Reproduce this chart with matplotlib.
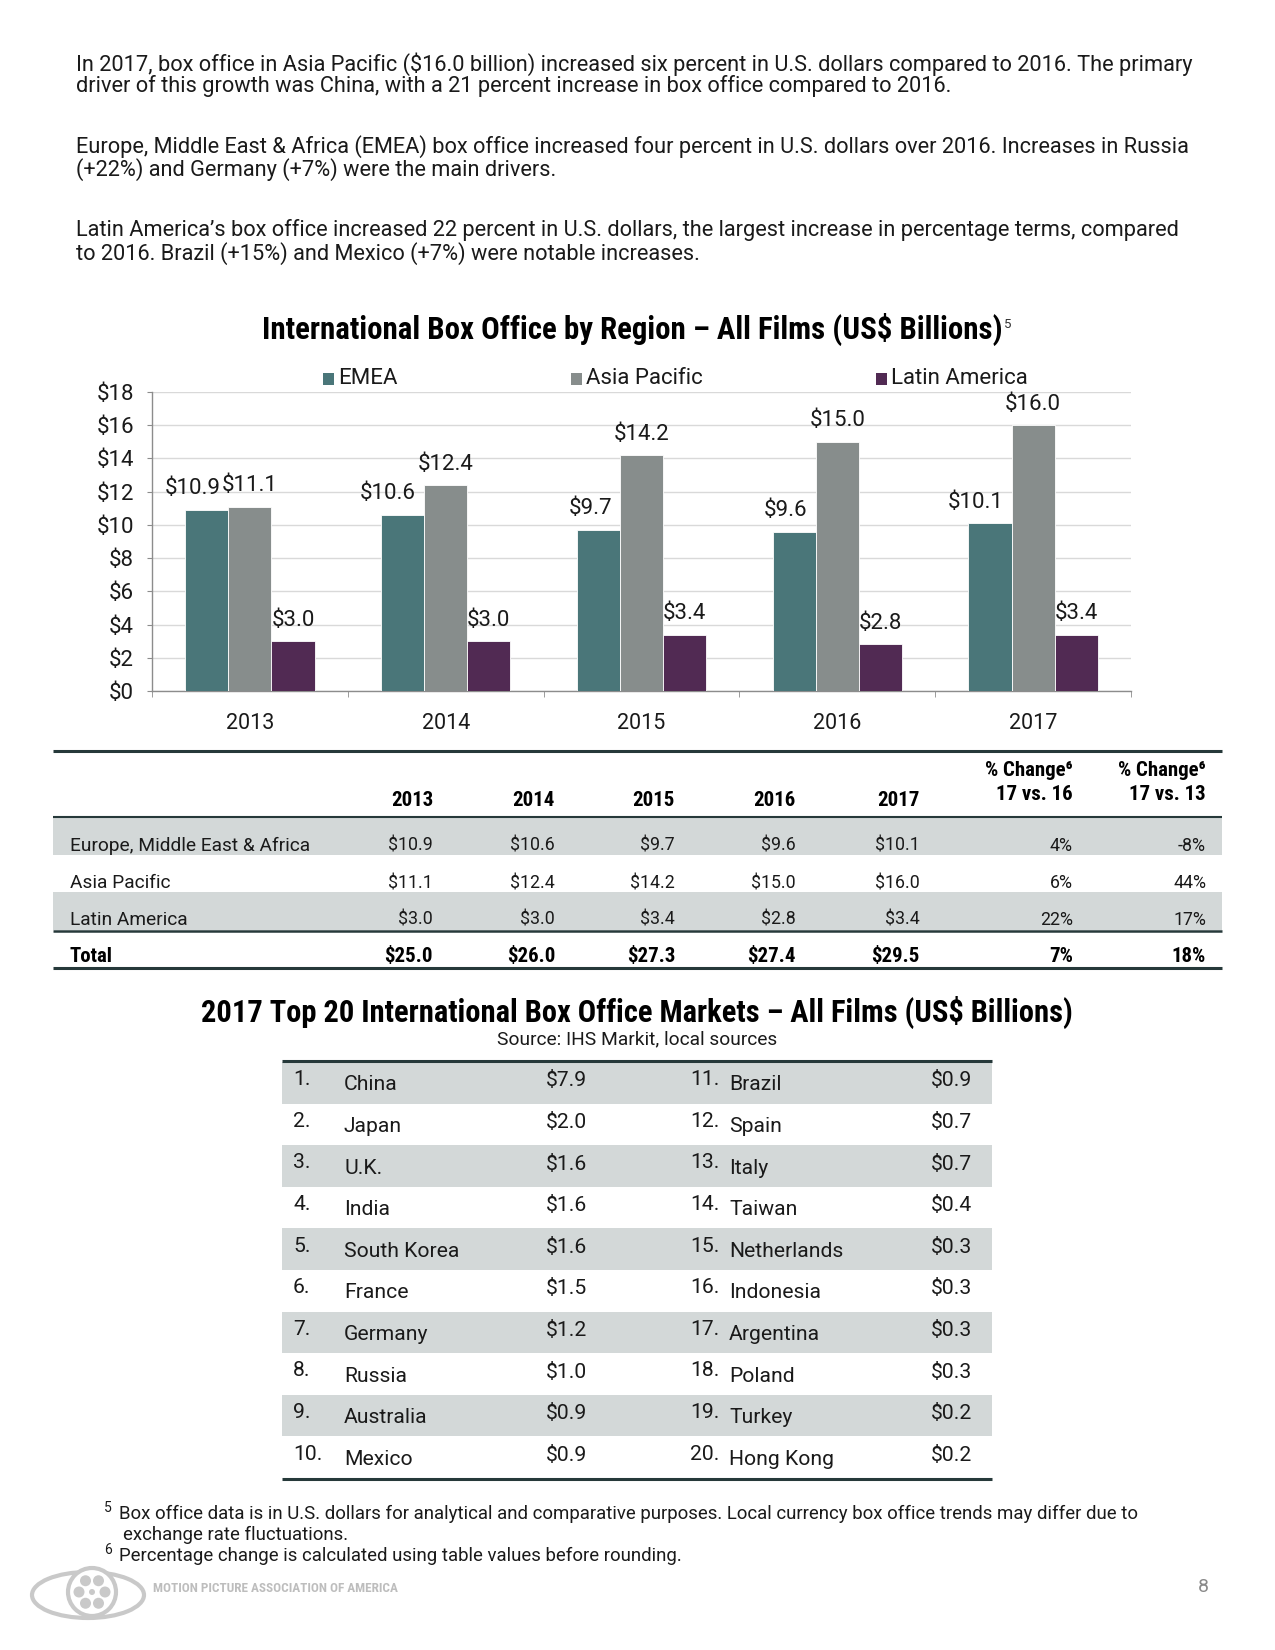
import numpy as np
import matplotlib
matplotlib.use('Agg')
import matplotlib.pyplot as plt
from matplotlib.patches import Rectangle, Ellipse, Circle

# ---------------- data ----------------
years = ['2013', '2014', '2015', '2016', '2017']
emea = [10.9, 10.6, 9.7, 9.6, 10.1]
apac = [11.1, 12.4, 14.2, 15.0, 16.0]
latam = [3.0, 3.0, 3.4, 2.8, 3.4]
series_names = ['EMEA', 'Asia Pacific', 'Latin America']
y_ticks = [0, 2, 4, 6, 8, 10, 12, 14, 16, 18]

table_rows = ['Europe, Middle East & Africa', 'Asia Pacific', 'Latin America']
totals = [25.0, 26.0, 27.3, 27.4, 29.5]
chg_17_16 = ['4%', '6%', '22%']
chg_17_13 = ['-8%', '44%', '17%']
total_chg = ['7%', '18%']

markets = ['China', 'Japan', 'U.K.', 'India', 'South Korea', 'France', 'Germany',
           'Russia', 'Australia', 'Mexico', 'Brazil', 'Spain', 'Italy', 'Taiwan',
           'Netherlands', 'Indonesia', 'Argentina', 'Poland', 'Turkey', 'Hong Kong']
market_values = [7.9, 2.0, 1.6, 1.6, 1.6, 1.5, 1.2, 1.0, 0.9, 0.9,
                 0.9, 0.7, 0.7, 0.4, 0.3, 0.3, 0.3, 0.3, 0.2, 0.2]

paragraphs = [
    "In 2017, box office in Asia Pacific ($16.0 billion) increased six percent in U.S. dollars compared to 2016. The primary",
    "driver of this growth was China, with a 21 percent increase in box office compared to 2016.",
    "Europe, Middle East & Africa (EMEA) box office increased four percent in U.S. dollars over 2016. Increases in Russia",
    "(+22%) and Germany (+7%) were the main drivers.",
    "Latin America\u2019s box office increased 22 percent in U.S. dollars, the largest increase in percentage terms, compared",
    "to 2016. Brazil (+15%) and Mexico (+7%) were notable increases.",
]
footnotes = [
    "Box office data is in U.S. dollars for analytical and comparative purposes. Local currency box office trends may differ due to",
    "exchange rate fluctuations.",
    "Percentage change is calculated using table values before rounding.",
]

# ---------------- style ----------------
plt.rcParams['font.family'] = ['Roboto', 'DejaVu Sans']
COND = ['Roboto Condensed', 'Liberation Sans Narrow', 'Roboto', 'DejaVu Sans']
TEAL = '#4A7679'
GREY = '#878D8C'
PURP = '#512A53'
BAND = '#D3D8D8'
RULE = '#26393A'
TXT = '#1a1a1a'

W, H = 1275, 1650
fig = plt.figure(figsize=(W / 100, H / 100), dpi=100)
fig.patch.set_facecolor('white')

ov = fig.add_axes([0, 0, 1, 1], zorder=0)
ov.set_xlim(0, W)
ov.set_ylim(H, 0)
ov.axis('off')

# ---------------- paragraphs ----------------
para_y = [64, 86, 147, 170, 230, 254]
for s, y in zip(paragraphs, para_y):
    ov.text(76, y, s, fontsize=15.7, color=TXT, va='center', ha='left')

# ---------------- chart title & legend ----------------
ov.text(632, 329, 'International Box Office by Region \u2013 All Films (US$ Billions)',
        fontsize=22.2, fontweight='bold', family=COND, ha='center', va='center', color='black')
ov.text(1004, 324, '5', fontsize=9.5, ha='left', va='center', color='#333333')

leg_colors = [TEAL, GREY, PURP]
leg_x = [323, 571, 876]
for name, c, lx in zip(series_names, leg_colors, leg_x):
    ov.add_patch(Rectangle((lx, 373), 11, 12, facecolor=c, edgecolor='none'))
    ov.text(lx + 15, 379, name, fontsize=16, ha='left', va='center', color=TXT)

# ---------------- bar chart ----------------
L, R, T, B = 152, 1131, 392, 691
ax = fig.add_axes([L / W, 1 - B / H, (R - L) / W, (B - T) / H], zorder=2)
ax.patch.set_alpha(0)
x = np.arange(len(years))
w = 0.22
ax.bar(x - w, emea, w, color=TEAL, edgecolor='white', linewidth=0.6, zorder=3)
ax.bar(x, apac, w, color=GREY, edgecolor='white', linewidth=0.6, zorder=3)
ax.bar(x + w, latam, w, color=PURP, edgecolor='white', linewidth=0.6, zorder=3)
ax.set_ylim(0, 18)
ax.set_xlim(-0.5, len(years) - 0.5)
ax.set_yticks(y_ticks, labels=[f'${v}' for v in y_ticks])
ax.yaxis.grid(True, color='#D9D9D9', linewidth=1)
ax.set_axisbelow(True)
for sp in ['top', 'right']:
    ax.spines[sp].set_visible(False)
for sp in ['left', 'bottom']:
    ax.spines[sp].set_color('#8C8C8C')
    ax.spines[sp].set_linewidth(1)
ax.tick_params(axis='y', length=3.6, color='#8C8C8C', pad=9.4, labelsize=16, labelcolor=TXT)
ax.set_xticks(x, labels=years)
ax.tick_params(axis='x', which='major', length=0, pad=16, labelsize=15.5, labelcolor=TXT)
ax.set_xticks(np.arange(-0.5, len(years), 1), minor=True)
ax.tick_params(axis='x', which='minor', length=4.5, color='#8C8C8C', direction='out')

for xi, v in zip(x, emea):
    ax.annotate(f'${v:.1f}', (xi - w / 2, v), xytext=(-8, 21), textcoords='offset pixels',
                ha='right', va='center', fontsize=16, color=TXT)
for xi, v in zip(x, apac):
    ax.annotate(f'${v:.1f}', (xi, v), xytext=(0, 21), textcoords='offset pixels',
                ha='center', va='center', fontsize=16, color=TXT)
for xi, v in zip(x, latam):
    ax.annotate(f'${v:.1f}', (xi + w, v), xytext=(0, 21), textcoords='offset pixels',
                ha='center', va='center', fontsize=16, color=TXT)

# ---------------- table 1 ----------------
TL, TR = 53, 1222
col_right = [433, 555, 675, 796, 920]
chg_right = [1073, 1206]
ov.plot([TL, TR], [751, 751], color=RULE, lw=2.2, solid_capstyle='butt')
for cx, yr in zip(col_right, years):
    ov.text(cx, 800, yr, fontsize=15, fontweight='bold', family=COND, ha='right', va='center')
for cx, lab in zip(chg_right, ['17 vs. 16', '17 vs. 13']):
    ov.text(cx, 771, '% Change\u2076', fontsize=15, fontweight='bold', family=COND, ha='right', va='center')
    ov.text(cx, 794, lab, fontsize=15, fontweight='bold', family=COND, ha='right', va='center')

# bands
ov.add_patch(Rectangle((TL, 817), TR - TL, 38, facecolor=BAND, edgecolor='none'))
ov.add_patch(Rectangle((TL, 892), TR - TL, 38, facecolor=BAND, edgecolor='none'))
ov.plot([TL, TR], [817, 817], color=RULE, lw=1.5, solid_capstyle='butt')
ov.plot([TL, TR], [930.5, 930.5], color=RULE, lw=1.8, solid_capstyle='butt')
ov.plot([TL, TR], [968, 968], color=RULE, lw=2.2, solid_capstyle='butt')

row_vals = [emea, apac, latam]
row_y = [846, 883, 920]
for name, vals, c1, c2, y in zip(table_rows, row_vals, chg_17_16, chg_17_13, row_y):
    ov.text(70, y, name, fontsize=13.8, ha='left', va='center', color=TXT)
    for cx, v in zip(col_right, vals):
        ov.text(cx, y, f'${v:.1f}', fontsize=12.8, ha='right', va='center', color=TXT)
    ov.text(chg_right[0], y, c1, fontsize=12.8, ha='right', va='center', color=TXT)
    ov.text(chg_right[1], y, c2, fontsize=12.8, ha='right', va='center', color=TXT)

ov.text(70, 957, 'Total', fontsize=15, fontweight='bold', family=COND, ha='left', va='center')
for cx, v in zip(col_right, totals):
    ov.text(cx, 957, f'${v:.1f}', fontsize=15, fontweight='bold', family=COND, ha='right', va='center')
for cx, v in zip(chg_right, total_chg):
    ov.text(cx, 957, v, fontsize=15, fontweight='bold', family=COND, ha='right', va='center')

# ---------------- table 2 ----------------
ov.text(637, 1012, '2017 Top 20 International Box Office Markets \u2013 All Films (US$ Billions)',
        fontsize=22, fontweight='bold', family=COND, ha='center', va='center', color='black')
ov.text(637, 1039, 'Source: IHS Markit, local sources', fontsize=13.8, ha='center', va='center', color=TXT)

T2L, T2R = 282, 992
top2 = 1062
rh = 41.6
for i in range(10):
    if i % 2 == 0:
        ov.add_patch(Rectangle((T2L, top2 + i * rh), T2R - T2L, rh, facecolor=BAND, edgecolor='none'))
ov.plot([T2L, T2R], [1061, 1061], color=RULE, lw=2.2, solid_capstyle='butt')
ov.plot([T2L, T2R], [1479, 1479], color=RULE, lw=2.2, solid_capstyle='butt')

half = 10
col_sets = [(293, 344, 546), (690, 729, 931)]
for k in range(len(markets)):
    side = k // half
    i = k % half
    nx, cx, vx = col_sets[side]
    yc = top2 + (i + 0.5) * rh
    ov.text(nx, yc - 3, f'{k + 1}.', fontsize=15.2, ha='left', va='center', color=TXT)
    ov.text(cx, yc + 2, markets[k], fontsize=15.2, ha='left', va='center', color=TXT)
    ov.text(vx, yc - 2, f'${market_values[k]:.1f}', fontsize=15.2, ha='left', va='center', color=TXT)

# ---------------- footnotes ----------------
ov.text(104, 1508, '5', fontsize=10, ha='left', va='center', color=TXT)
ov.text(119, 1514, footnotes[0], fontsize=13.4, ha='left', va='center', color=TXT)
ov.text(123, 1535, footnotes[1], fontsize=13.4, ha='left', va='center', color=TXT)
ov.text(104, 1550, '6', fontsize=10, ha='left', va='center', color=TXT)
ov.text(119, 1556, footnotes[2], fontsize=13.4, ha='left', va='center', color=TXT)

# ---------------- logo & page number ----------------
LG = '#C9C9C9'
ov.add_patch(Ellipse((88, 1595), 112, 46, fill=False, edgecolor=LG, lw=3))
ov.add_patch(Circle((92, 1592), 24, fill=True, facecolor='white', edgecolor=LG, lw=3))
for ang in np.linspace(0, 2 * np.pi, 6, endpoint=False):
    ov.add_patch(Circle((92 + 13 * np.cos(ang), 1592 + 13 * np.sin(ang)), 5.5, facecolor=LG, edgecolor='none'))
ov.add_patch(Circle((92, 1592), 3, facecolor=LG, edgecolor='none'))
ov.text(153, 1588, 'MOTION PICTURE ASSOCIATION OF AMERICA', fontsize=9.5, fontweight='bold',
        family=COND, color='#BDBDBD', ha='left', va='center')
ov.text(1203, 1587, '8', fontsize=14, color='#8A8A8A', ha='center', va='center')

fig.savefig('out.png', dpi=100, facecolor='white')
